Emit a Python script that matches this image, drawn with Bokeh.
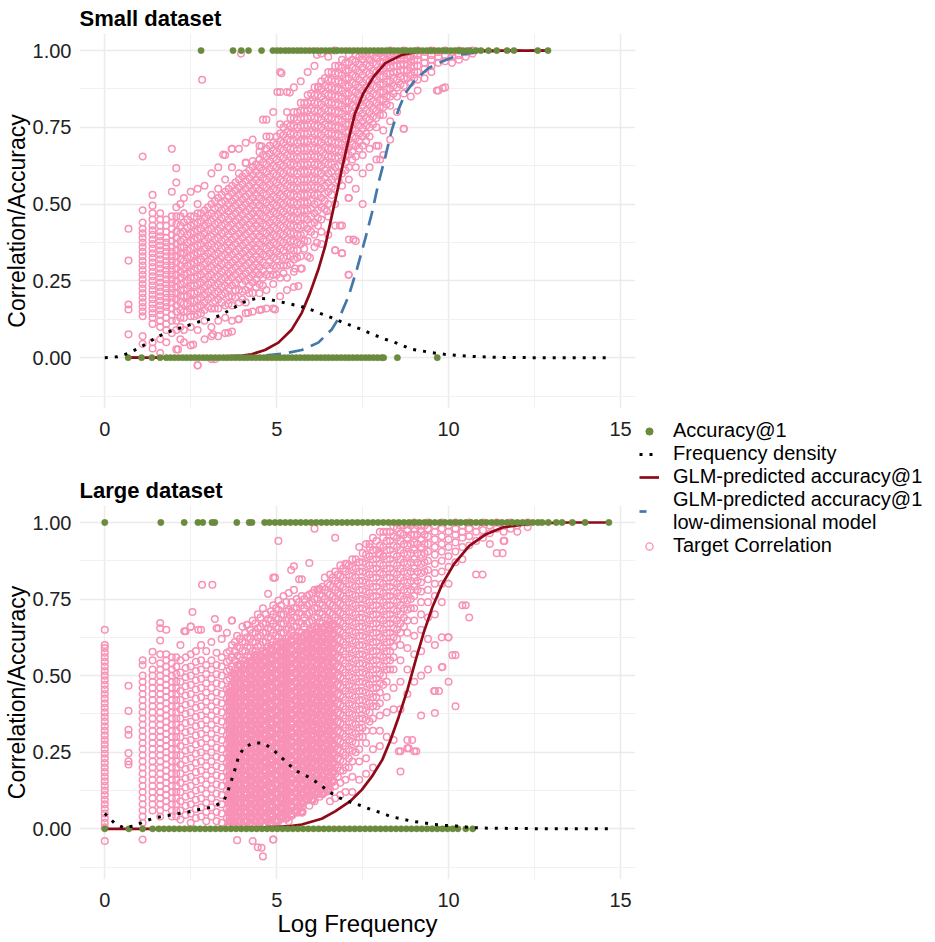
from bokeh.plotting import figure
from bokeh.layouts import row, column
from bokeh.models import FixedTicker, NumeralTickFormatter, Legend, LegendItem
from bokeh.embed import file_html
from bokeh.resources import INLINE

GREEN = "#6A8B3D"
RED = "#8E0A18"
BLUE = "#4477AA"
PINK = "#F891B6"
FONT = "Liberation Sans"

# ---------------- Small dataset ----------------
small_hit_x = [2.80, 3.73, 3.97, 4.18, 4.56, 4.89, 5.01, 5.12, 5.25, 5.36, 5.48, 5.6, 5.71, 5.83, 5.95, 6.07, 6.18, 6.3, 6.42, 6.54, 6.65, 6.77, 6.89, 7.01, 7.12, 7.24, 7.36, 7.48, 7.59, 7.71, 7.83, 7.95, 8.06, 8.18, 8.3, 8.42, 8.53, 8.65, 8.77, 8.89, 9.0, 9.12, 9.24, 9.36, 9.47, 9.59, 9.71, 9.83, 9.94, 10.06, 10.18, 10.3, 10.41, 10.53, 10.62, 10.8, 10.94, 11.16, 11.4, 11.7, 11.9, 12.59, 12.89]
small_miss_x = [0.68, 1.07, 1.37, 1.61, 1.79, 1.91, 2.03, 2.15, 2.27, 2.38, 2.5, 2.62, 2.74, 2.86, 2.97, 3.09, 3.21, 3.33, 3.45, 3.56, 3.68, 3.8, 3.92, 4.04, 4.15, 4.27, 4.39, 4.51, 4.63, 4.74, 4.86, 4.98, 5.1, 5.22, 5.33, 5.45, 5.57, 5.69, 5.81, 5.92, 6.04, 6.16, 6.28, 6.4, 6.51, 6.63, 6.75, 6.87, 6.99, 7.1, 7.22, 7.34, 7.46, 7.58, 7.69, 7.81, 7.93, 8.05, 8.11, 8.51, 9.67]

small_dens_x = [0, 0.37, 0.68, 0.97, 1.26, 1.53, 1.82, 2.13, 2.45, 2.74, 3.0, 3.2, 3.49, 3.76, 4.05, 4.39, 4.7, 5.02, 5.33, 5.68, 6.05, 6.34, 6.65, 6.94, 7.26, 7.57, 7.86, 8.16, 8.45, 8.93, 9.22, 9.54, 9.88, 10.19, 10.53, 10.87, 11.5, 12.5, 13.5, 14.7]
small_dens_y = [0, 0.003, 0.014, 0.03, 0.049, 0.068, 0.083, 0.095, 0.106, 0.117, 0.124, 0.13, 0.146, 0.163, 0.181, 0.193, 0.192, 0.184, 0.176, 0.168, 0.154, 0.141, 0.128, 0.114, 0.101, 0.087, 0.073, 0.06, 0.049, 0.027, 0.022, 0.016, 0.011, 0.008, 0.005, 0.003, 0.001, 0.0, 0.0, 0.0]

small_glm_x = [0.68, 2, 3, 3.5, 4, 4.27, 4.66, 5.05, 5.44, 5.73, 5.97, 6.21, 6.41, 6.6, 6.75, 6.89, 7.09, 7.28, 7.52, 7.82, 8.16, 8.64, 9.13, 9.61, 10.5, 12.89]
small_glm_y = [0.0, 0.0, 0.002, 0.004, 0.007, 0.011, 0.025, 0.049, 0.092, 0.146, 0.211, 0.287, 0.363, 0.46, 0.536, 0.612, 0.71, 0.796, 0.861, 0.915, 0.959, 0.986, 0.997, 0.999, 1.0, 1.0]
small_low_x = [0.68, 3, 4.27, 5.24, 5.73, 6.21, 6.6, 6.84, 7.09, 7.33, 7.57, 7.77, 7.96, 8.16, 8.35, 8.54, 8.74, 9.03, 9.42, 9.81, 10.29, 10.97, 12, 12.89]
small_low_y = [0, 0.0, 0.003, 0.014, 0.025, 0.049, 0.092, 0.135, 0.2, 0.287, 0.385, 0.471, 0.569, 0.655, 0.742, 0.807, 0.861, 0.905, 0.943, 0.964, 0.986, 0.997, 1.0, 1.0]

small_corr_col_x = [0.69, 1.1, 1.39, 1.61, 1.79, 1.95, 2.08, 2.2,
                    2.3, 2.5, 2.7, 2.9, 3.1, 3.3, 3.5, 3.7, 3.9, 4.1, 4.3, 4.5, 4.7, 4.9, 5.1, 5.3, 5.5, 5.7, 5.9,
                    6.1, 6.3, 6.5, 6.7, 6.9, 7.1, 7.3, 7.5, 7.7, 7.9, 8.1, 8.3, 8.5, 8.7, 8.9, 9.1, 9.3, 9.5, 9.7,
                    9.9, 10.1, 10.3, 10.5, 10.7]
small_corr_col_y = [
    [.42, .316, .173, .157, .076],
    [.655, .48, .44, .42, .405, .39, .375, .36, .345, .33, .315, .3, .285, .27, .255, .24, .225, .21, .195, .18, .165, .15, .135, .07, .045],
    [.53, .495, .47, .45, .43, .415, .4, .385, .37, .355, .34, .325, .31, .295, .28, .265, .25, .235, .22, .205, .19, .175, .16, .145, .13, .11, .05, .03],
    [.47, .45, .43, .41, .395, .38, .365, .35, .335, .32, .305, .29, .275, .26, .245, .23, .215, .2, .185, .17, .155, .14, .12, .1, .06, .015],
    [.45, .43, .41, .39, .375, .36, .345, .33, .315, .3, .285, .27, .255, .24, .225, .21, .195, .18, .165, .15, .13, .11, .09, .05],
    [.68, .54, .46, .44, .42, .4, .38, .36, .345, .33, .315, .3, .285, .27, .255, .24, .225, .21, .195, .18, .16, .14, .12, .08],
    [.617, .57, .49, .46, .435, .41, .39, .37, .35, .33, .31, .29, .27, .25, .23, .21, .19, .17, .15, .12, .09, .027],
    [.5, .46, .43, .405, .38, .36, .34, .32, .3, .28, .26, .24, .22, .2, .18, .155, .13, .1, .06],
    [.52, .47, .44, .41, .385, .36, .34, .315, .29, .27, .245, .22, .2, .175, .15, .13, .09, .05],
    [.54, .46, .43, .405, .38, .355, .33, .305, .28, .26, .235, .21, .185, .16, .135, .1, .04],
    [.55, .5, .47, .44, .415, .39, .365, .34, .315, .29, .265, .24, .215, .19, .165, .14, .09, -.025],
    [.56, .48, .455, .43, .405, .38, .355, .33, .305, .28, .255, .23, .205, .18, .155, .12, .06],
    [.6, .53, .5, .47, .445, .42, .395, .37, .345, .32, .295, .27, .245, .22, .195, .16, .1, .07, -.005],
    [.62, .55, .52, .49, .465, .44, .415, .39, .365, .34, .315, .29, .265, .24, .215, .19, .16, .12, .07],
    [.66, .58, .54, .51, .485, .46, .435, .41, .385, .36, .335, .31, .285, .26, .235, .21, .17, .13, .08],
    [.68, .62, .56, .535, .51, .485, .46, .435, .41, .385, .36, .335, .31, .285, .26, .235, .2, .17, .12, .085],
    [.68, .6, .58, .555, .53, .505, .48, .455, .43, .405, .38, .355, .33, .305, .28, .255, .22, .18, .125],
    [.7, .635, .6, .575, .55, .525, .5, .475, .45, .425, .4, .375, .35, .325, .3, .275, .25, .22, .18, .145],
    [.71, .64, .62, .595, .57, .545, .52, .495, .47, .445, .42, .395, .37, .345, .32, .295, .27, .245, .21, .15],
    [.69, .67, .645, .62, .595, .57, .545, .52, .495, .47, .445, .42, .395, .37, .345, .32, .295, .27, .24, .21, .155],
    [.775, .72, .68, .655, .63, .605, .58, .555, .53, .505, .48, .455, .43, .405, .38, .355, .33, .3, .27, .22, .16],
    [.8, .7, .675, .65, .625, .6, .575, .55, .525, .5, .475, .45, .425, .4, .375, .35, .325, .3, .27, .24, .16],
    [.93, .865, .76, .73, .705, .68, .655, .63, .605, .58, .555, .53, .505, .48, .455, .43, .405, .38, .355, .33, .3, .26, .2],
    [.865, .8, .76, .735, .71, .685, .66, .635, .61, .585, .56, .535, .51, .485, .46, .435, .41, .385, .36, .33, .3, .26, .22],
    [.88, .8, .78, .755, .73, .705, .68, .655, .63, .605, .58, .555, .53, .505, .48, .455, .43, .405, .38, .35, .32, .28, .23],
    [.9, .83, .805, .78, .755, .73, .705, .68, .655, .63, .605, .58, .555, .53, .505, .48, .455, .43, .4, .37, .33, .29],
    [.93, .855, .83, .805, .78, .755, .73, .705, .68, .655, .63, .605, .58, .555, .53, .505, .48, .45, .42, .38, .33],
    [.95, .88, .855, .83, .805, .78, .755, .73, .705, .68, .655, .63, .605, .58, .555, .53, .5, .47, .44, .4, .36],
    [.99, .9, .875, .85, .825, .8, .775, .75, .725, .7, .675, .65, .625, .6, .575, .55, .52, .49, .45, .41, .37],
    [.98, .93, .905, .88, .855, .83, .805, .78, .755, .73, .705, .68, .655, .63, .6, .57, .54, .5, .46, .4],
    [1.0, .95, .925, .9, .875, .85, .825, .8, .775, .75, .725, .7, .675, .65, .62, .59, .55, .5, .43, .35],
    [.97, .945, .92, .895, .87, .845, .82, .795, .77, .745, .72, .695, .67, .64, .6, .56, .43, .34],
    [.985, .96, .935, .91, .885, .86, .835, .81, .785, .76, .735, .71, .685, .66, .62, .58, .52, .385, .27],
    [.985, .965, .94, .915, .89, .865, .84, .815, .79, .765, .74, .715, .69, .655, .62, .55, .38],
    [.99, .97, .945, .92, .895, .87, .845, .82, .795, .77, .745, .72, .69, .66, .6, .5],
    [.99, .97, .95, .925, .9, .875, .85, .825, .8, .775, .75, .72, .68, .62],
    [.995, .975, .955, .93, .905, .88, .855, .83, .805, .78, .75, .69, .645],
    [.995, .98, .96, .94, .915, .89, .865, .84, .815, .79, .74, .66],
    [1.0, .98, .965, .945, .925, .9, .875, .85, .82, .77, .71],
    [.995, .985, .97, .95, .93, .905, .88, .85, .8],
    [1.0, .985, .97, .955, .935, .91, .885, .86, .745],
    [.995, .98, .965, .945, .92, .895, .85],
    [1.0, .985, .97, .95, .93, .905, .87],
    [.995, .98, .96, .94, .91],
    [1.0, .985, .97, .95, .93],
    [.995, .98, .96, .87],
    [1.0, .985, .965, .88],
    [.995, .98, .96],
    [1.0, .985, .97],
    [.995, .98],
    [1.0, .99],
]
small_corr_mid_x = [2.4, 2.6, 2.8, 3.0, 3.2, 3.4, 3.6, 3.8, 4.0, 4.2, 4.4, 4.6, 4.8, 5.0, 5.2, 5.4, 5.6, 5.8,
                    6.0, 6.2, 6.4, 6.6, 6.8, 7.0, 7.2, 7.4, 7.6, 7.8, 8.0, 8.2, 8.4, 8.6, 8.8, 9.0]
small_corr_mid_y = [
    [.45, .425, .4, .375, .35, .325, .3, .275, .25, .225, .2, .175, .15],
    [.46, .435, .41, .385, .36, .335, .31, .285, .26, .235, .21, .185, .16, .135],
    [.47, .445, .42, .395, .37, .345, .32, .295, .27, .245, .22, .195, .17, .145],
    [.49, .465, .44, .415, .39, .365, .34, .315, .29, .265, .24, .215, .19, .165],
    [.51, .485, .46, .435, .41, .385, .36, .335, .31, .285, .26, .235, .21, .185, .16],
    [.53, .505, .48, .455, .43, .405, .38, .355, .33, .305, .28, .255, .23, .205, .18],
    [.55, .525, .5, .475, .45, .425, .4, .375, .35, .325, .3, .275, .25, .225, .2, .175],
    [.57, .545, .52, .495, .47, .445, .42, .395, .37, .345, .32, .295, .27, .245, .22, .195],
    [.59, .565, .54, .515, .49, .465, .44, .415, .39, .365, .34, .315, .29, .265, .24, .215, .19],
    [.61, .585, .56, .535, .51, .485, .46, .435, .41, .385, .36, .335, .31, .285, .26, .235, .21],
    [.63, .605, .58, .555, .53, .505, .48, .455, .43, .405, .38, .355, .33, .305, .28, .255, .23],
    [.66, .635, .61, .585, .56, .535, .51, .485, .46, .435, .41, .385, .36, .335, .31, .285, .26, .235],
    [.69, .665, .64, .615, .59, .565, .54, .515, .49, .465, .44, .415, .39, .365, .34, .315, .29, .265],
    [.72, .695, .67, .645, .62, .595, .57, .545, .52, .495, .47, .445, .42, .395, .37, .345, .32, .295, .27],
    [.75, .725, .7, .675, .65, .625, .6, .575, .55, .525, .5, .475, .45, .425, .4, .375, .35, .325, .3, .275],
    [.78, .755, .73, .705, .68, .655, .63, .605, .58, .555, .53, .505, .48, .455, .43, .405, .38, .355, .33, .305],
    [.8, .775, .75, .725, .7, .675, .65, .625, .6, .575, .55, .525, .5, .475, .45, .425, .4, .375, .35, .325],
    [.83, .805, .78, .755, .73, .705, .68, .655, .63, .605, .58, .555, .53, .505, .48, .455, .43, .405, .38, .355],
    [.86, .835, .81, .785, .76, .735, .71, .685, .66, .635, .61, .585, .56, .535, .51, .485, .46, .435, .41],
    [.88, .855, .83, .805, .78, .755, .73, .705, .68, .655, .63, .605, .58, .555, .53, .505, .48, .455, .43],
    [.91, .885, .86, .835, .81, .785, .76, .735, .71, .685, .66, .635, .61, .585, .56, .535, .51, .485],
    [.93, .905, .88, .855, .83, .805, .78, .755, .73, .705, .68, .655, .63, .605, .58, .555, .53],
    [.95, .925, .9, .875, .85, .825, .8, .775, .75, .725, .7, .675, .65, .625, .6, .575],
    [.96, .935, .91, .885, .86, .835, .81, .785, .76, .735, .71, .685, .66, .635, .61],
    [.97, .945, .92, .895, .87, .845, .82, .795, .77, .745, .72, .695, .67, .645],
    [.98, .955, .93, .905, .88, .855, .83, .805, .78, .755, .73, .705, .68],
    [.98, .955, .93, .905, .88, .855, .83, .805, .78, .755, .73, .705],
    [.985, .96, .935, .91, .885, .86, .835, .81, .785, .76],
    [.99, .965, .94, .915, .89, .865, .84, .815, .79],
    [.99, .97, .95, .925, .9, .875, .85, .825],
    [.99, .97, .95, .93, .91, .885, .86],
    [.995, .975, .955, .935, .915, .89],
    [.995, .975, .955, .935, .91],
    [.99, .97, .95, .93, .91],
]
small_corr_out_x = [2.83, 3.96, 3.44, 3.69, 4.1, 4.56, 4.6, 4.8, 5.02, 5.14, 5.38, 6.17, 6.21, 7.09, 6.84, 7.23, 6.7, 6.9, 7.09, 8.01, 7.96, 8.69, 9.66, 9.83, 5.63, 5.73, 5.53, 5.97, 6.17, 6.46, 4.17, 4.56, 4.95, 3.88, 3.59, 3.15, 2.57, 2.13, 2.7, 3.2]
small_corr_out_y = [.905, .99, .661, .68, .634, .688, .775, .72, .865, .926, .863, .986, .883, .52, .43, .385, .35, .34, .27, .645, .69, .745, .87, .877, .233, .29, .29, .325, .374, .477, .146, .157, .157, .125, .081, .076, .043, .027, -.025, -.005]

# ---------------- Large dataset ----------------
large_hit_x = [0.0, 1.63, 2.31, 2.71, 2.85, 3.12, 3.2, 3.84, 4.2, 4.28, 4.65, 4.79, 4.95, 5.1, 5.25, 5.4, 5.55, 5.7, 5.85, 6.0, 6.15, 6.3, 6.45, 6.6, 6.75, 6.9, 7.05, 7.2, 7.35, 7.5, 7.65, 7.8, 7.95, 8.1, 8.25, 8.4, 8.55, 8.7, 8.85, 9.0, 9.15, 9.3, 9.45, 9.6, 9.75, 9.9, 10.05, 10.2, 10.35, 10.5, 10.65, 10.8, 10.95, 11.1, 11.25, 11.4, 11.55, 11.7, 11.85, 12.0, 12.15, 12.3, 12.45, 12.6, 12.72, 12.9, 13.13, 13.3, 13.6, 13.97, 14.66]
large_miss_x = [0.0, 0.7, 1.1, 1.39, 1.57, 1.72, 1.87, 2.02, 2.17, 2.32, 2.47, 2.62, 2.77, 2.92, 3.07, 3.22, 3.37, 3.52, 3.67, 3.82, 3.97, 4.12, 4.27, 4.42, 4.57, 4.72, 4.87, 5.02, 5.17, 5.32, 5.47, 5.62, 5.77, 5.92, 6.07, 6.22, 6.37, 6.52, 6.67, 6.82, 6.97, 7.12, 7.27, 7.42, 7.57, 7.72, 7.87, 8.02, 8.17, 8.32, 8.47, 8.62, 8.77, 8.92, 9.07, 9.22, 9.37, 9.52, 9.67, 9.82, 9.97, 10.12, 10.27, 10.5, 10.7]

large_dens_x = [0, 0.27, 0.55, 0.85, 1.17, 1.46, 1.8, 2.12, 2.43, 2.75, 2.88, 3.2, 3.47, 3.59, 3.69, 3.79, 3.88, 4.03, 4.3, 4.61, 4.88, 5.13, 5.36, 5.61, 5.73, 6.02, 6.28, 6.55, 6.83, 7.14, 7.45, 7.74, 8.05, 8.34, 8.62, 8.92, 9.25, 9.58, 9.9, 10.23, 10.55, 10.89, 11.2, 12, 13, 14.7]
large_dens_y = [0.05, 0.02, 0.003, 0.009, 0.025, 0.036, 0.043, 0.049, 0.055, 0.063, 0.065, 0.074, 0.092, 0.126, 0.16, 0.195, 0.231, 0.263, 0.28, 0.28, 0.26, 0.234, 0.209, 0.187, 0.181, 0.163, 0.142, 0.119, 0.101, 0.087, 0.076, 0.063, 0.052, 0.039, 0.033, 0.025, 0.02, 0.014, 0.011, 0.009, 0.005, 0.003, 0.002, 0.001, 0.0, 0.0]

large_glm_x = [0, 2, 3, 4, 4.5, 5, 5.4, 5.73, 6.31, 6.7, 7.14, 7.48, 7.77, 8.07, 8.31, 8.55, 8.8, 9.04, 9.28, 9.53, 9.82, 10.16, 10.6, 11.09, 11.57, 12.45, 13.5, 14.66]
large_glm_y = [0, 0.0, 0.001, 0.002, 0.004, 0.006, 0.009, 0.014, 0.033, 0.057, 0.09, 0.128, 0.171, 0.225, 0.29, 0.366, 0.453, 0.55, 0.642, 0.724, 0.8, 0.865, 0.924, 0.962, 0.984, 0.997, 1.0, 1.0]

large_corr_col_x = [0.0, 0.69, 1.1, 1.39, 1.61, 1.79, 1.95, 2.08,
                    2.2, 2.35, 2.5, 2.65, 2.8, 2.95, 3.1, 3.25, 3.4, 3.55, 3.7, 3.85, 4.0, 4.15, 4.3, 4.45, 4.6,
                    4.75, 4.9, 5.05, 5.2, 5.35, 5.5, 5.65, 5.8, 5.95, 6.1, 6.25, 6.4, 6.55, 6.7, 6.85, 7.0, 7.2,
                    7.4, 7.6, 7.8, 8.0, 8.2, 8.4, 8.6, 8.8, 9.0, 9.2, 9.4, 9.6, 9.8, 10.0, 10.2, 10.4, 10.6, 10.8,
                    11.0, 11.2, 11.4, 11.6, 11.8, 12.0, 12.3]
large_corr_col_y = [
    [.65, .6, .59, .575, .56, .545, .53, .515, .5, .485, .47, .455, .44, .425, .41, .395, .38, .365, .35, .335, .32, .305, .29, .275, .26, .245, .23, .215, .2, .185, .17, .155, .14, .125, .11, .095, .08, .065, .05, .035, .02, .005, -.04],
    [.467, .385, .323, .307, .247, .22, .21],
    [.55, .535, .5, .48, .46, .44, .42, .4, .38, .36, .34, .32, .3, .28, .26, .24, .22, .2, .18, .16, .14, .12, .1, .08, .06, .04, .02, -.035],
    [.578, .55, .52, .5, .48, .46, .44, .42, .4, .38, .36, .34, .32, .3, .28, .26, .24, .22, .2, .18, .16, .14, .12, .1, .08, .06],
    [.672, .655, .615, .57, .54, .52, .5, .48, .46, .44, .42, .4, .38, .36, .34, .32, .3, .28, .26, .24, .22, .2, .18, .16, .14, .12, .1, .08, .06, .04],
    [.65, .57, .55, .53, .51, .49, .47, .45, .43, .41, .39, .37, .35, .33, .31, .29, .27, .25, .23, .21, .19, .17, .15, .13, .11, .09, .07],
    [.56, .54, .52, .5, .48, .46, .44, .42, .4, .38, .36, .34, .32, .3, .28, .26, .24, .22, .2, .18, .16, .14, .12, .1, .08, .06, .04],
    [.56, .53, .505, .48, .46, .44, .42, .4, .38, .36, .34, .32, .3, .28, .26, .24, .22, .2, .18, .16, .14, .12, .1, .08, .06, .04],
    [.6, .55, .51, .48, .45, .42, .39, .36, .33, .3, .27, .24, .21, .18, .15, .12, .09, .06, .03],
    [.645, .56, .525, .495, .465, .435, .405, .375, .345, .315, .285, .255, .225, .195, .165, .135, .105, .075, .045],
    [.66, .57, .53, .5, .47, .44, .41, .38, .35, .32, .29, .26, .23, .2, .17, .14, .11, .08, .05, .02],
    [.58, .545, .515, .485, .455, .425, .395, .365, .335, .305, .275, .245, .215, .185, .155, .125, .095, .065, .035],
    [.65, .6, .55, .52, .49, .46, .43, .4, .37, .34, .31, .28, .25, .22, .19, .16, .13, .1, .07, .04],
    [.58, .535, .505, .475, .445, .415, .385, .355, .325, .295, .265, .235, .205, .175, .145, .115, .085, .055, .025],
    [.61, .55, .52, .49, .46, .43, .4, .37, .34, .31, .28, .25, .22, .19, .16, .13, .1, .07, .04],
    [.655, .575, .535, .505, .475, .445, .415, .385, .355, .325, .295, .265, .235, .205, .175, .145, .115, .085, .055, .025],
    [.62, .56, .53, .5, .47, .44, .41, .38, .35, .32, .29, .26, .23, .2, .17, .14, .11, .08, .05, .02],
    [.64, .575, .545, .515, .485, .455, .425, .395, .365, .335, .305, .275, .245, .215, .185, .155, .125, .095, .065, .035, .005],
    [.68, .6, .56, .53, .5, .47, .44, .41, .38, .35, .32, .29, .26, .23, .2, .17, .14, .11, .08, .05, .02],
    [.63, .595, .565, .535, .505, .475, .445, .415, .385, .355, .325, .295, .265, .235, .205, .175, .145, .115, .085, .055, .025, -.037],
    [.66, .61, .58, .55, .52, .49, .46, .43, .4, .37, .34, .31, .28, .25, .22, .19, .16, .13, .1, .07, .04, .01],
    [.666, .625, .595, .565, .535, .505, .475, .445, .415, .385, .355, .325, .295, .265, .235, .205, .175, .145, .115, .085, .055, .025],
    [.68, .64, .61, .58, .55, .52, .49, .46, .43, .4, .37, .34, .31, .28, .25, .22, .19, .16, .13, .1, .07, .04, .01, -.04],
    [.7, .655, .625, .595, .565, .535, .505, .475, .445, .415, .385, .355, .325, .295, .265, .235, .205, .175, .145, .115, .085, .055, .025, -.06],
    [.72, .67, .64, .61, .58, .55, .52, .49, .46, .43, .4, .37, .34, .31, .28, .25, .22, .19, .16, .13, .1, .07, .04, .01, -.09],
    [.767, .685, .655, .625, .595, .565, .535, .505, .475, .445, .415, .385, .355, .325, .295, .265, .235, .205, .175, .145, .115, .085, .055, .025],
    [.82, .73, .7, .67, .64, .61, .58, .55, .52, .49, .46, .43, .4, .37, .34, .31, .28, .25, .22, .19, .16, .13, .1, .07, .04, .01, -.035],
    [.94, .745, .715, .685, .655, .625, .595, .565, .535, .505, .475, .445, .415, .385, .355, .325, .295, .265, .235, .205, .175, .145, .115, .085, .055, .025],
    [.76, .7, .67, .64, .61, .58, .55, .52, .49, .46, .43, .4, .37, .34, .31, .28, .25, .22, .19, .16, .13, .1, .07, .04],
    [.77, .715, .685, .655, .625, .595, .565, .535, .505, .475, .445, .415, .385, .355, .325, .295, .265, .235, .205, .175, .145, .115, .085, .055, .025],
    [.857, .78, .72, .69, .66, .63, .6, .57, .54, .51, .48, .45, .42, .39, .36, .33, .3, .27, .24, .21, .18, .15, .12, .09, .06],
    [.815, .74, .705, .675, .645, .615, .585, .555, .525, .495, .465, .435, .405, .375, .345, .315, .285, .255, .225, .195, .165, .135, .105, .075],
    [.75, .72, .69, .66, .63, .6, .57, .54, .51, .48, .45, .42, .39, .36, .33, .3, .27, .24, .21, .18, .15, .12, .09],
    [.868, .765, .735, .705, .675, .645, .615, .585, .555, .525, .495, .465, .435, .405, .375, .345, .315, .285, .255, .225, .195, .165, .135, .105, .075],
    [.98, .78, .75, .72, .69, .66, .63, .6, .57, .54, .51, .48, .45, .42, .39, .36, .33, .3, .27, .24, .21, .18, .15, .12, .09],
    [.783, .765, .735, .705, .675, .645, .615, .585, .555, .525, .495, .465, .435, .405, .375, .345, .315, .285, .255, .225, .195, .165, .135, .105],
    [.82, .78, .75, .72, .69, .66, .63, .6, .57, .54, .51, .48, .45, .42, .39, .36, .33, .3, .27, .24, .21, .18, .15, .12],
    [.83, .795, .765, .735, .705, .675, .645, .615, .585, .555, .525, .495, .465, .435, .405, .375, .345, .315, .285, .255, .225, .195, .165, .13, .09],
    [.95, .84, .81, .78, .75, .72, .69, .66, .63, .6, .57, .54, .51, .48, .45, .42, .39, .36, .33, .3, .27, .24, .21, .18, .14, .1],
    [.86, .825, .795, .765, .735, .705, .675, .645, .615, .585, .555, .525, .495, .465, .435, .405, .375, .345, .315, .285, .255, .225, .19, .15, .11],
    [.865, .84, .81, .78, .75, .72, .69, .66, .63, .6, .57, .54, .51, .48, .45, .42, .39, .36, .33, .3, .27, .24, .2, .16, .12],
    [.88, .855, .825, .795, .765, .735, .705, .675, .645, .615, .585, .555, .525, .495, .465, .435, .405, .375, .345, .315, .285, .255, .22, .17, .12],
    [.92, .87, .84, .81, .78, .75, .72, .69, .66, .63, .6, .57, .54, .51, .48, .45, .42, .39, .36, .33, .3, .26, .22, .16],
    [.93, .895, .865, .835, .805, .775, .745, .715, .685, .655, .625, .595, .565, .535, .505, .475, .445, .415, .385, .355, .32, .28, .23, .18],
    [.95, .91, .88, .85, .82, .79, .76, .73, .7, .67, .64, .61, .58, .55, .52, .49, .46, .43, .4, .36, .32, .26, .2],
    [.97, .925, .895, .865, .835, .805, .775, .745, .715, .685, .655, .625, .595, .565, .535, .505, .475, .445, .41, .37, .32, .27],
    [.97, .94, .91, .88, .85, .82, .79, .76, .73, .7, .67, .64, .61, .58, .55, .52, .48, .43, .38, .3],
    [.985, .955, .925, .895, .865, .835, .805, .775, .745, .715, .685, .655, .625, .595, .56, .52, .46, .39, .29],
    [.99, .965, .94, .91, .88, .85, .82, .79, .76, .73, .7, .67, .64, .6, .55, .48, .39, .253, .187],
    [.995, .975, .95, .925, .895, .865, .835, .805, .775, .745, .715, .68, .64, .59, .52, .44, .29, .263],
    [1.0, .98, .96, .935, .91, .88, .85, .82, .79, .76, .72, .68, .63, .57, .48, .253],
    [.99, .97, .945, .92, .895, .865, .835, .805, .775, .74, .7, .65, .58, .5, .37],
    [1.0, .98, .955, .93, .905, .875, .845, .815, .78, .74, .69, .62, .52],
    [.99, .97, .945, .92, .895, .865, .835, .8, .76, .7, .6, .45, .378],
    [1.0, .98, .955, .93, .905, .875, .84, .8, .74, .625, .528],
    [.99, .97, .945, .92, .89, .855, .8, .625, .48],
    [1.0, .98, .96, .935, .905, .87, .567, .4],
    [.99, .97, .95, .92, .88, .73],
    [1.0, .98, .955, .925, .69],
    [.99, .97, .94, .83],
    [1.0, .975, .95],
    [.99, .965, .93],
    [1.0, .98, .9],
    [.99, .97, .94],
    [1.0, .98],
    [.99, .97],
    [1.0, .985],
]
large_corr_mid_x = [3.63, 3.78, 3.93, 4.08, 4.23, 4.38, 4.53, 4.68, 4.83, 4.98, 5.13, 5.28, 5.43, 5.58, 5.73,
                    5.88, 6.03, 6.18, 6.33, 6.48, 6.63, 6.78, 6.93, 7.1, 7.3, 7.5, 7.7, 7.9, 8.1, 8.3, 8.5, 8.7,
                    8.9, 9.1, 9.3]
large_corr_mid_y = [
    [.58, .55, .52, .49, .46, .43, .4, .37, .34, .31, .28, .25, .22, .19, .16, .13, .1, .07, .04, .01],
    [.61, .58, .55, .52, .49, .46, .43, .4, .37, .34, .31, .28, .25, .22, .19, .16, .13, .1, .07, .04, .01],
    [.62, .59, .56, .53, .5, .47, .44, .41, .38, .35, .32, .29, .26, .23, .2, .17, .14, .11, .08, .05, .02],
    [.64, .61, .58, .55, .52, .49, .46, .43, .4, .37, .34, .31, .28, .25, .22, .19, .16, .13, .1, .07, .04, .01],
    [.65, .62, .59, .56, .53, .5, .47, .44, .41, .38, .35, .32, .29, .26, .23, .2, .17, .14, .11, .08, .05, .02],
    [.67, .64, .61, .58, .55, .52, .49, .46, .43, .4, .37, .34, .31, .28, .25, .22, .19, .16, .13, .1, .07, .04, .01],
    [.69, .66, .63, .6, .57, .54, .51, .48, .45, .42, .39, .36, .33, .3, .27, .24, .21, .18, .15, .12, .09, .06, .03],
    [.7, .67, .64, .61, .58, .55, .52, .49, .46, .43, .4, .37, .34, .31, .28, .25, .22, .19, .16, .13, .1, .07, .04, .01],
    [.71, .68, .65, .62, .59, .56, .53, .5, .47, .44, .41, .38, .35, .32, .29, .26, .23, .2, .17, .14, .11, .08, .05, .02],
    [.72, .69, .66, .63, .6, .57, .54, .51, .48, .45, .42, .39, .36, .33, .3, .27, .24, .21, .18, .15, .12, .09, .06, .03],
    [.73, .7, .67, .64, .61, .58, .55, .52, .49, .46, .43, .4, .37, .34, .31, .28, .25, .22, .19, .16, .13, .1, .07, .04],
    [.74, .71, .68, .65, .62, .59, .56, .53, .5, .47, .44, .41, .38, .35, .32, .29, .26, .23, .2, .17, .14, .11, .08, .05],
    [.74, .71, .68, .65, .62, .59, .56, .53, .5, .47, .44, .41, .38, .35, .32, .29, .26, .23, .2, .17, .14, .11, .08, .05],
    [.75, .72, .69, .66, .63, .6, .57, .54, .51, .48, .45, .42, .39, .36, .33, .3, .27, .24, .21, .18, .15, .12, .09, .06],
    [.76, .73, .7, .67, .64, .61, .58, .55, .52, .49, .46, .43, .4, .37, .34, .31, .28, .25, .22, .19, .16, .13, .1, .07],
    [.76, .73, .7, .67, .64, .61, .58, .55, .52, .49, .46, .43, .4, .37, .34, .31, .28, .25, .22, .19, .16, .13, .1],
    [.77, .74, .71, .68, .65, .62, .59, .56, .53, .5, .47, .44, .41, .38, .35, .32, .29, .26, .23, .2, .17, .14, .11],
    [.78, .75, .72, .69, .66, .63, .6, .57, .54, .51, .48, .45, .42, .39, .36, .33, .3, .27, .24, .21, .18, .15, .12],
    [.79, .76, .73, .7, .67, .64, .61, .58, .55, .52, .49, .46, .43, .4, .37, .34, .31, .28, .25, .22, .19, .16, .13],
    [.8, .77, .74, .71, .68, .65, .62, .59, .56, .53, .5, .47, .44, .41, .38, .35, .32, .29, .26, .23, .2, .17, .14],
    [.82, .79, .76, .73, .7, .67, .64, .61, .58, .55, .52, .49, .46, .43, .4, .37, .34, .31, .28, .25, .22, .19, .16],
    [.83, .8, .77, .74, .71, .68, .65, .62, .59, .56, .53, .5, .47, .44, .41, .38, .35, .32, .29, .26, .23, .2, .17],
    [.85, .82, .79, .76, .73, .7, .67, .64, .61, .58, .55, .52, .49, .46, .43, .4, .37, .34, .31, .28, .25, .22, .19],
    [.86, .83, .8, .77, .74, .71, .68, .65, .62, .59, .56, .53, .5, .47, .44, .41, .38, .35, .32, .29, .26, .23, .2],
    [.88, .85, .82, .79, .76, .73, .7, .67, .64, .61, .58, .55, .52, .49, .46, .43, .4, .37, .34, .31, .28, .25],
    [.9, .87, .84, .81, .78, .75, .72, .69, .66, .63, .6, .57, .54, .51, .48, .45, .42, .39, .36, .33, .3],
    [.92, .89, .86, .83, .8, .77, .74, .71, .68, .65, .62, .59, .56, .53, .5, .47, .44, .41, .38, .35],
    [.94, .91, .88, .85, .82, .79, .76, .73, .7, .67, .64, .61, .58, .55, .52, .49, .46, .43, .4],
    [.95, .92, .89, .86, .83, .8, .77, .74, .71, .68, .65, .62, .59, .56, .53, .5, .47],
    [.97, .94, .91, .88, .85, .82, .79, .76, .73, .7, .67, .64, .61, .58, .55, .52],
    [.98, .95, .92, .89, .86, .83, .8, .77, .74, .71, .68, .65, .62],
    [.99, .96, .93, .9, .87, .84, .81, .78, .75, .72, .69, .66],
    [.99, .96, .93, .9, .87, .84, .81, .78, .75, .72],
    [.99, .96, .93, .9, .87, .84, .81, .78],
    [.99, .96, .93, .9, .87, .84],
]
large_corr_core_x = [3.63, 3.78, 3.93, 4.08, 4.23, 4.38, 4.53, 4.68, 4.83, 4.98, 5.13, 5.28, 5.43, 5.58, 5.73,
                     5.88, 6.03, 6.18, 6.33, 6.48, 6.63]
large_corr_core_y = [
    [.445, .415, .385, .355, .325, .295, .265, .235, .205, .175, .145, .115, .085, .055, .025],
    [.505, .475, .445, .415, .385, .355, .325, .295, .265, .235, .205, .175, .145, .115, .085, .055, .025],
    [.535, .505, .475, .445, .415, .385, .355, .325, .295, .265, .235, .205, .175, .145, .115, .085, .055, .025],
    [.535, .505, .475, .445, .415, .385, .355, .325, .295, .265, .235, .205, .175, .145, .115, .085, .055, .025],
    [.545, .515, .485, .455, .425, .395, .365, .335, .305, .275, .245, .215, .185, .155, .125, .095, .065, .035],
    [.565, .535, .505, .475, .445, .415, .385, .355, .325, .295, .265, .235, .205, .175, .145, .115, .085, .055, .025],
    [.565, .535, .505, .475, .445, .415, .385, .355, .325, .295, .265, .235, .205, .175, .145, .115, .085, .055, .025],
    [.575, .545, .515, .485, .455, .425, .395, .365, .335, .305, .275, .245, .215, .185, .155, .125, .095, .065, .035],
    [.585, .555, .525, .495, .465, .435, .405, .375, .345, .315, .285, .255, .225, .195, .165, .135, .105, .075, .045, .015],
    [.595, .565, .535, .505, .475, .445, .415, .385, .355, .325, .295, .265, .235, .205, .175, .145, .115, .085, .055, .025],
    [.605, .575, .545, .515, .485, .455, .425, .395, .365, .335, .305, .275, .245, .215, .185, .155, .125, .095, .065, .035],
    [.605, .575, .545, .515, .485, .455, .425, .395, .365, .335, .305, .275, .245, .215, .185, .155, .125, .095, .065, .035],
    [.615, .585, .555, .525, .495, .465, .435, .405, .375, .345, .315, .285, .255, .225, .195, .165, .135, .105, .075, .045],
    [.625, .595, .565, .535, .505, .475, .445, .415, .385, .355, .325, .295, .265, .235, .205, .175, .145, .115, .085, .055],
    [.625, .595, .565, .535, .505, .475, .445, .415, .385, .355, .325, .295, .265, .235, .205, .175, .145, .115, .085, .055],
    [.635, .605, .575, .545, .515, .485, .455, .425, .395, .365, .335, .305, .275, .245, .215, .185, .155, .125, .095],
    [.635, .605, .575, .545, .515, .485, .455, .425, .395, .365, .335, .305, .275, .245, .215, .185, .155, .125, .095],
    [.655, .625, .595, .565, .535, .505, .475, .445, .415, .385, .355, .325, .295, .265, .235, .205, .175, .145, .115],
    [.655, .625, .595, .565, .535, .505, .475, .445, .415, .385, .355, .325, .295, .265, .235, .205, .175, .145, .115],
    [.665, .635, .605, .575, .545, .515, .485, .455, .425, .395, .365, .335, .305, .275, .245, .215, .185, .155, .125],
    [.665, .635, .605, .575, .545, .515, .485, .455, .425, .395, .365, .335, .305, .275, .245, .215, .185, .155],
]
large_corr_out_x = [2.83, 3.13, 2.55, 2.31, 2.5, 2.72, 3.2, 3.3, 3.69, 4.13, 4.95, 5.42, 5.73, 6.23, 8.1, 7.04, 7.7, 7.97, 11.57, 11.62, 10.99, 10.5, 10.11, 9.72, 9.58, 9.82, 9.99, 9.06, 8.84, 8.94, 8.55, 4.56, 4.9]
large_corr_out_y = [.797, .797, .708, .645, .66, .65, .685, .655, .68, .666, .82, .845, .815, .783, .97, .865, .93, .9, .9, .94, .83, .73, .567, .45, .45, .528, .625, .253, .263, .29, .253, -.062, -.035]


def flatten(*col_sets):
    xs, ys = [], []
    for col_x, col_y in col_sets:
        for x, col in zip(col_x, col_y):
            xs.extend([x] * len(col))
            ys.extend(col)
    return xs, ys


def style(p, title):
    p.title.text = title
    p.title.text_font = FONT
    p.title.text_font_size = "22px"
    p.title.text_font_style = "bold"
    p.title.text_color = "black"
    p.title.align = "left"
    p.title.standoff = 6
    p.outline_line_color = None
    p.background_fill_color = "white"
    for ax in (p.xaxis[0], p.yaxis[0]):
        ax.axis_line_color = None
        ax.major_tick_line_color = None
        ax.minor_tick_line_color = None
        ax.major_label_text_font = FONT
        ax.major_label_text_font_size = "20px"
        ax.major_label_text_color = "#222222"
        ax.axis_label_text_font = FONT
        ax.axis_label_text_font_size = "24px"
        ax.axis_label_text_font_style = "normal"
        ax.axis_label_text_color = "black"
    p.yaxis[0].axis_label_text_font_size = "23px"
    p.xaxis[0].ticker = FixedTicker(ticks=[0, 5, 10, 15], minor_ticks=[2.5, 7.5, 12.5])
    p.yaxis[0].ticker = FixedTicker(ticks=[0, 0.25, 0.5, 0.75, 1.0],
                                    minor_ticks=[-0.125, 0.125, 0.375, 0.625, 0.875])
    p.yaxis[0].formatter = NumeralTickFormatter(format="0.00")
    p.yaxis[0].axis_label = "Correlation/Accuracy"
    p.yaxis[0].major_label_standoff = 2
    p.yaxis[0].axis_label_standoff = 0
    p.xaxis[0].major_label_standoff = 7
    p.xaxis[0].axis_label_standoff = 0
    for g in (p.xgrid[0], p.ygrid[0]):
        g.grid_line_color = "#EBEBEB"
        g.grid_line_width = 1.5
        g.minor_grid_line_color = "#EFEFEF"
        g.minor_grid_line_width = 0.9


def make_panel(title, corr_sets, core_set, corr_out, glm, low, dens, hit_x, miss_x, top_border, bottom_border, fh, xlabel=None):
    p = figure(frame_width=556, frame_height=fh, x_range=(-0.735, 15.435), y_range=(-0.1655, 1.0555),
               toolbar_location=None, output_backend="svg",
               min_border_left=68, min_border_right=4, min_border_top=top_border,
               min_border_bottom=bottom_border)
    style(p, title)
    if xlabel:
        p.xaxis[0].axis_label = xlabel
    cx, cy = flatten(*corr_sets)
    p.scatter(cx, cy, marker="circle", size=6.6, fill_color=None, line_color=PINK, line_width=1.5)
    if core_set is not None:
        kx, ky = flatten(core_set)
        p.scatter(kx, ky, marker="circle", size=6.6, fill_color=None, line_color=PINK, line_width=3.2)
    p.scatter(corr_out[0], corr_out[1], marker="circle", size=6.6, fill_color=None, line_color=PINK, line_width=1.5)
    if low is not None:
        p.line(low[0], low[1], line_color=BLUE, line_width=2.7, line_dash="15 8")
    p.line(glm[0], glm[1], line_color=RED, line_width=2.7)
    p.scatter(hit_x, [1.0] * len(hit_x), marker="circle", size=6.3, fill_color=GREEN, line_color=GREEN, line_width=0.5)
    p.scatter(miss_x, [0.0] * len(miss_x), marker="circle", size=6.3, fill_color=GREEN, line_color=GREEN, line_width=0.5)
    p.line(dens[0], dens[1], line_color="black", line_width=3, line_dash="3 7")
    return p


p1 = make_panel("Small dataset",
                [(small_corr_col_x, small_corr_col_y), (small_corr_mid_x, small_corr_mid_y)], None,
                (small_corr_out_x, small_corr_out_y),
                (small_glm_x, small_glm_y), (small_low_x, small_low_y), (small_dens_x, small_dens_y),
                small_hit_x, small_miss_x, 25, 30, 375)
p2 = make_panel("Large dataset",
                [(large_corr_col_x, large_corr_col_y), (large_corr_mid_x, large_corr_mid_y)],
                (large_corr_core_x, large_corr_core_y),
                (large_corr_out_x, large_corr_out_y),
                (large_glm_x, large_glm_y), None, (large_dens_x, large_dens_y),
                large_hit_x, large_miss_x, 67, 53, 374, xlabel="Log Frequency")

# ---------------- Legend ----------------
NAN = float("nan")
pl = figure(width=289, height=924, min_border=0, toolbar_location=None, output_backend="svg",
            x_axis_location=None, y_axis_location=None, x_range=(0, 1), y_range=(0, 1))
pl.grid.visible = False
pl.outline_line_color = None
r_acc = pl.scatter([NAN], [NAN], marker="circle", size=7.5, fill_color=GREEN, line_color=GREEN)
r_den = pl.line([NAN, NAN], [NAN, NAN], line_color="black", line_width=3, line_dash="3 7")
r_glm = pl.line([NAN, NAN], [NAN, NAN], line_color=RED, line_width=2.7)
r_low = pl.line([NAN, NAN], [NAN, NAN], line_color=BLUE, line_width=2.7, line_dash="7 20")
r_cor = pl.scatter([NAN], [NAN], marker="circle", size=7.5, fill_color=None, line_color=PINK, line_width=1.3)
legend = Legend(items=[
    LegendItem(label="Accuracy@1", renderers=[r_acc]),
    LegendItem(label="Frequency density", renderers=[r_den]),
    LegendItem(label="GLM-predicted accuracy@1", renderers=[r_glm]),
    LegendItem(label="GLM-predicted accuracy@1\nlow-dimensional model", renderers=[r_low]),
    LegendItem(label="Target Correlation", renderers=[r_cor]),
], location=(0, 367), padding=0, margin=0, spacing=-1, glyph_width=20, glyph_height=18,
    label_height=18, label_standoff=14, label_text_font=FONT, label_text_font_size="20px",
    label_text_line_height=1.0, label_text_color="black", border_line_color=None, background_fill_alpha=0)
pl.add_layout(legend)

layout = row(column(p1, p2), pl)
open("out.html", "w").write(file_html(layout, INLINE))
